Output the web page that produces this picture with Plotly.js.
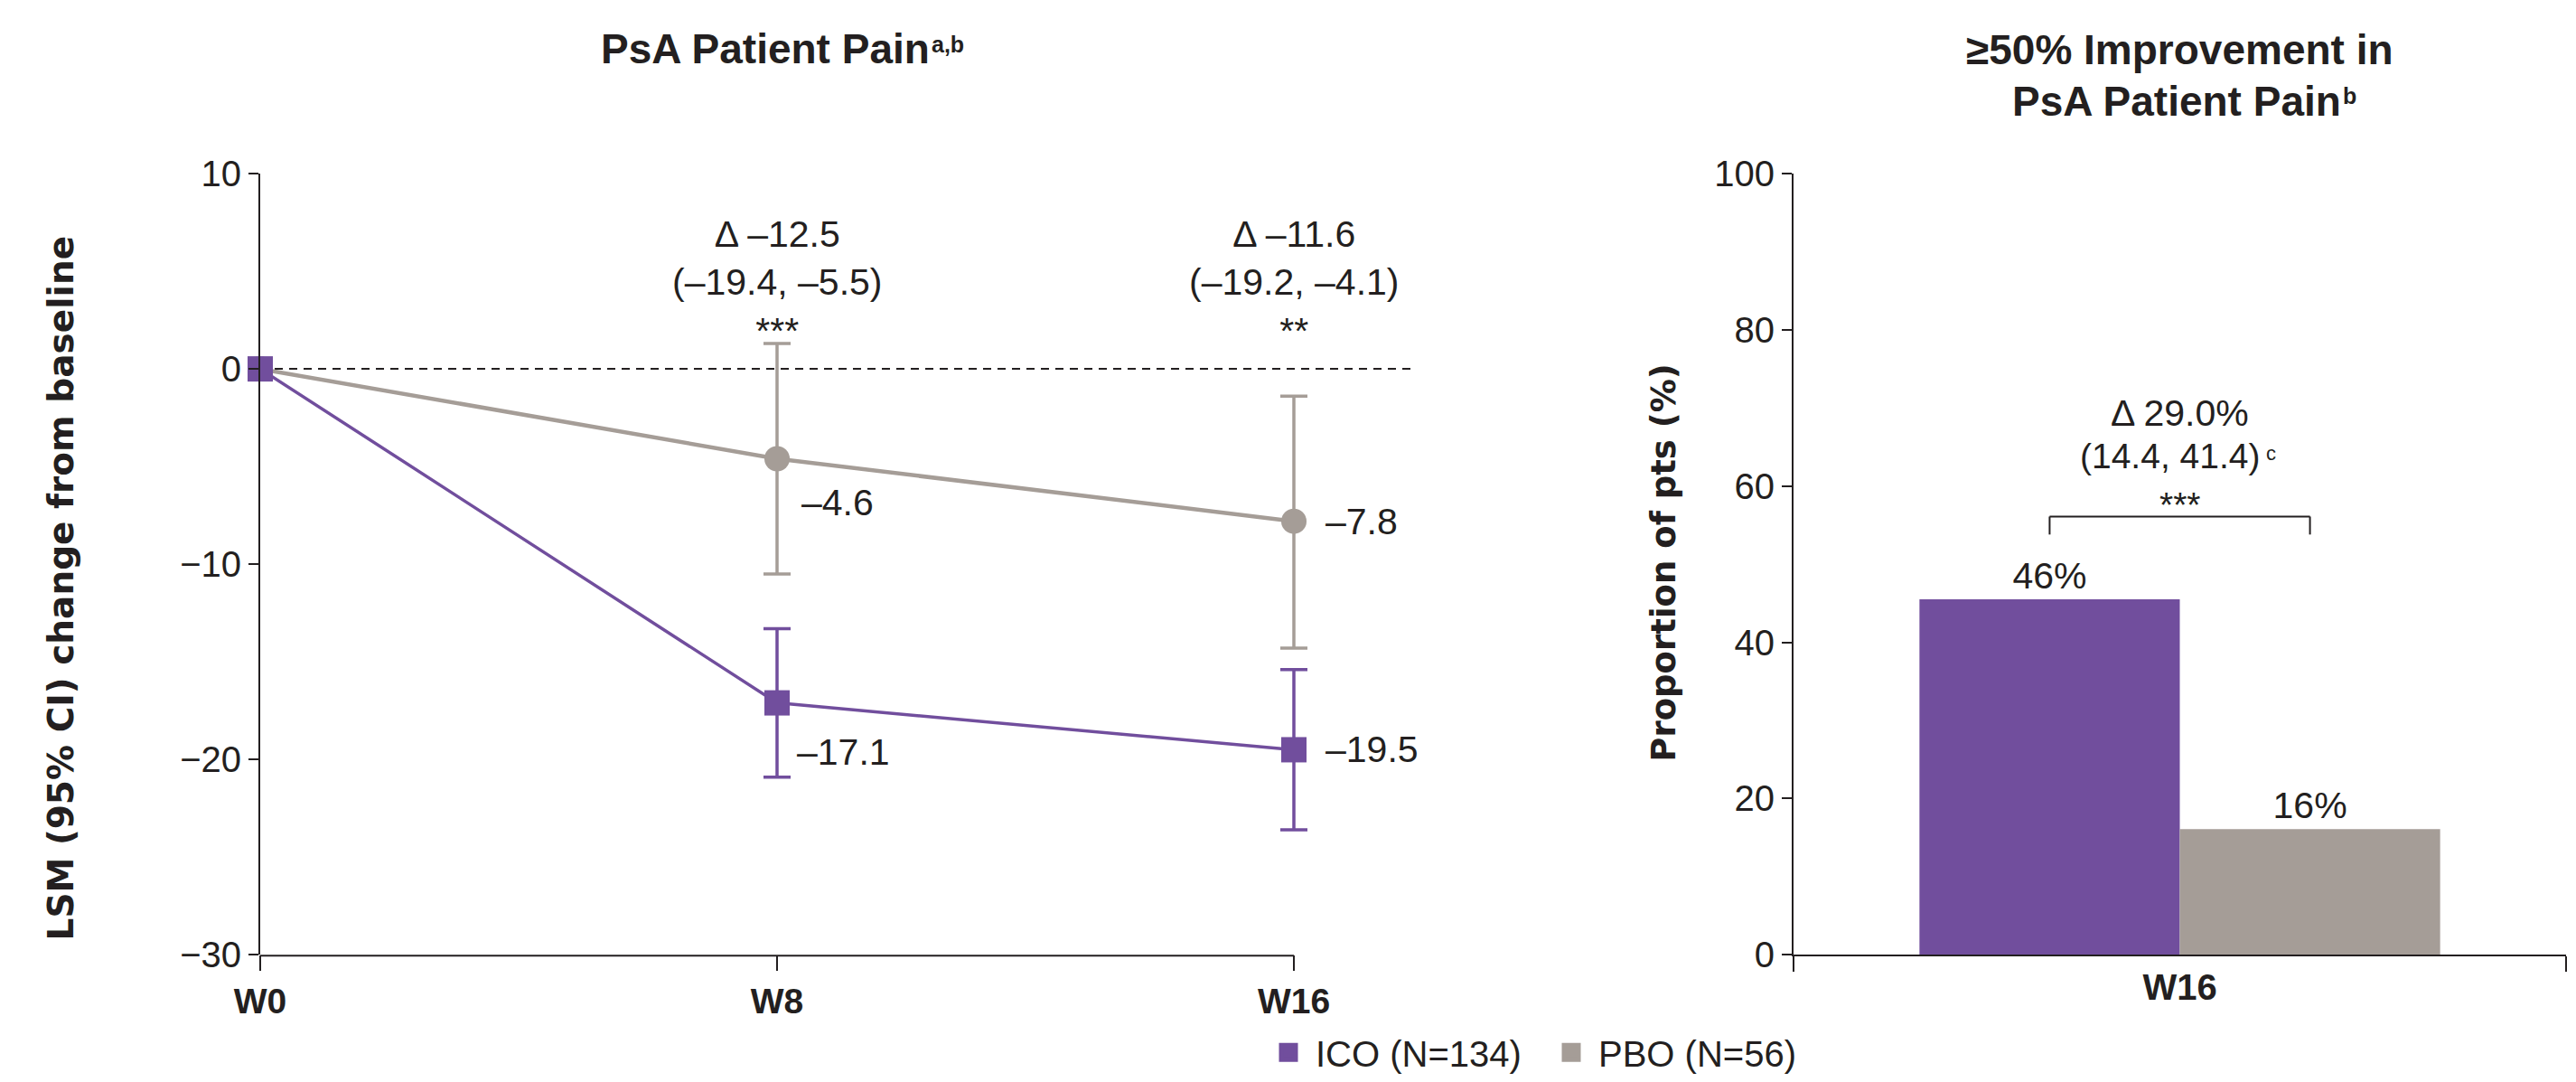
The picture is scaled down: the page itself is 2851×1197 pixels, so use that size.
<!DOCTYPE html>
<html>
<head>
<meta charset="utf-8">
<script src="https://cdn.plot.ly/plotly-3.0.1.min.js"></script>
<style>
  html, body { margin: 0; padding: 0; background: #ffffff; }
  #chart { width: 2851px; height: 1197px; }
</style>
</head>
<body>
<div id="chart"></div>
<script>
// ---------- data ----------
const weeks = [0, 8, 16];
const weekLabels = ['W0', 'W8', 'W16'];

const icoMean  = [0, -17.1, -19.5];
const icoLower = [null, -20.9, -23.6];
const icoUpper = [null, -13.3, -15.4];

const pboMean  = [0, -4.6, -7.8];
const pboLower = [null, -10.5, -14.3];
const pboUpper = [null, 1.3, -1.4];

const deltaLabels = ['', 'Δ –12.5<br>(–19.4, –5.5)<br>***', 'Δ –11.6<br>(–19.2, –4.1)<br>**'];

const barCategory = ['W16'];
const icoResponse = [45.5];
const pboResponse = [16.1];
const icoResponseLabel = ['46%'];
const pboResponseLabel = ['16%'];
const barDelta = 'Δ 29.0%';
const barDeltaCI = '(14.4, 41.4)';
const barDeltaNote = 'c';
const barDeltaSig = '***';

const seriesNames = ['ICO (N=134)', 'PBO (N=56)'];

// ---------- style ----------
const PURPLE = '#714e9d';
const GRAY = '#a59d97';
const INK = '#231f20';
const FONT = 'Liberation Sans, Arial, Helvetica, sans-serif';
const WIDE = 'DejaVu Sans, Verdana, sans-serif';
const W = 2851, H = 1197;
const px = v => v / W;
const py = v => 1 - v / H;

const errPlus = (m, u) => m.map((v, i) => u[i] == null ? NaN : u[i] - v);
const errMinus = (m, l) => m.map((v, i) => l[i] == null ? NaN : v - l[i]);
const fmt = v => v.toFixed(1).replace('-', '–');

// left panel geometry: W0 at 288px, W16 at 1432px, dashed reference line runs on to 1567px
const X0PX = 288, X16PX = 1432, XENDPX = 1567;
const xMax = weeks[weeks.length - 1];
const xRangeEnd = xMax * (XENDPX - X0PX) / (X16PX - X0PX);

const traces = [
  {
    type: 'scatter', mode: 'lines+markers', x: weeks, y: pboMean,
    xaxis: 'x', yaxis: 'y', name: seriesNames[1], showlegend: false, cliponaxis: false,
    line: { color: GRAY, width: 4.5 },
    marker: { symbol: 'circle', size: 28, color: GRAY },
    error_y: { type: 'data', symmetric: false, array: errPlus(pboMean, pboUpper),
               arrayminus: errMinus(pboMean, pboLower), color: GRAY, thickness: 3.5, width: 15 },
    hoverinfo: 'skip'
  },
  {
    type: 'scatter', mode: 'lines+markers', x: weeks, y: icoMean,
    xaxis: 'x', yaxis: 'y', name: seriesNames[0], showlegend: false, cliponaxis: false,
    line: { color: PURPLE, width: 3.5 },
    marker: { symbol: 'square', size: 28, color: PURPLE },
    error_y: { type: 'data', symmetric: false, array: errPlus(icoMean, icoUpper),
               arrayminus: errMinus(icoMean, icoLower), color: PURPLE, thickness: 3.5, width: 15 },
    hoverinfo: 'skip'
  },
  {
    type: 'bar', x: barCategory, y: icoResponse, xaxis: 'x2', yaxis: 'y2',
    name: seriesNames[0], showlegend: false, marker: { color: PURPLE },
    text: icoResponseLabel, textposition: 'outside', cliponaxis: false,
    textfont: { family: FONT, size: 41, color: INK }, hoverinfo: 'skip'
  },
  {
    type: 'bar', x: barCategory, y: pboResponse, xaxis: 'x2', yaxis: 'y2',
    name: seriesNames[1], showlegend: false, marker: { color: GRAY },
    text: pboResponseLabel, textposition: 'outside', cliponaxis: false,
    textfont: { family: FONT, size: 41, color: INK }, hoverinfo: 'skip'
  },
  // legend entries
  {
    type: 'scatter', mode: 'markers', x: [null], y: [null], xaxis: 'x2', yaxis: 'y2',
    name: seriesNames[0], marker: { symbol: 'square', size: 16, color: PURPLE, line: { color: PURPLE, width: 5 } },
    hoverinfo: 'skip'
  },
  {
    type: 'scatter', mode: 'markers', x: [null], y: [null], xaxis: 'x2', yaxis: 'y2',
    name: seriesNames[1], marker: { symbol: 'square', size: 16, color: GRAY, line: { color: GRAY, width: 5 } },
    hoverinfo: 'skip'
  }
];

const bargap = 0.326;
const barOffset = (1 - bargap) / 4;
const bracketTop = 56.1, bracketLeg = 53.8;

const titleFont = { family: FONT, size: 46, color: INK, weight: 'bold' };
const supFont = { family: FONT, size: 25, color: INK, weight: 'bold' };
const valFont = { family: FONT, size: 41, color: INK };

const annotations = [
  // panel titles
  { xref: 'paper', yref: 'paper', x: px(1030), y: py(55), xanchor: 'right', yanchor: 'middle', borderpad: 0,
    text: 'PsA Patient Pain', showarrow: false, font: titleFont },
  { xref: 'paper', yref: 'paper', x: px(1030), y: py(34), xanchor: 'left', yanchor: 'top', borderpad: 0,
    text: 'a,b', showarrow: false, font: supFont },
  { xref: 'paper', yref: 'paper', x: px(2412), y: py(56), xanchor: 'center', yanchor: 'middle',
    text: '≥50% Improvement in', showarrow: false, font: titleFont },
  { xref: 'paper', yref: 'paper', x: px(2592), y: py(113), xanchor: 'right', yanchor: 'middle', borderpad: 0,
    text: 'PsA Patient Pain', showarrow: false, font: titleFont },
  { xref: 'paper', yref: 'paper', x: px(2592), y: py(92), xanchor: 'left', yanchor: 'top', borderpad: 0,
    text: 'b', showarrow: false, font: supFont },
  // y-axis titles
  { xref: 'paper', yref: 'paper', x: px(67), y: py(657), xanchor: 'center', yanchor: 'middle', textangle: -90,
    text: 'LSM (95% CI) change from baseline', showarrow: false,
    font: { family: WIDE, size: 39, color: INK, weight: 'bold' } },
  { xref: 'paper', yref: 'paper', x: px(1842), y: py(629), xanchor: 'center', yanchor: 'middle', textangle: -90,
    text: 'Proportion of pts (%)', showarrow: false,
    font: { family: WIDE, size: 37, color: INK, weight: 'bold' } },
  // bar-panel difference
  { xref: 'x2', yref: 'y2', x: 0, y: 69.4, xanchor: 'center', yanchor: 'middle',
    text: barDelta, showarrow: false, font: valFont },
  { xref: 'x2', yref: 'y2', x: 0, xshift: -11, y: 63.9, xanchor: 'center', yanchor: 'middle',
    text: barDeltaCI, showarrow: false, font: { family: FONT, size: 39, color: INK } },
  { xref: 'x2', yref: 'y2', x: 0, xshift: 93, y: 65.9, xanchor: 'left', yanchor: 'top',
    text: barDeltaNote, showarrow: false, font: { family: FONT, size: 22, color: INK } },
  { xref: 'x2', yref: 'y2', x: 0, y: 57.6, xanchor: 'center', yanchor: 'middle',
    text: barDeltaSig, showarrow: false, font: { family: FONT, size: 39, color: INK } }
];

weeks.forEach((wk, i) => {
  if (deltaLabels[i]) {
    annotations.push({ xref: 'x', yref: 'y', x: wk, y: 4.41, xanchor: 'center', yanchor: 'middle',
      text: deltaLabels[i], showarrow: false, font: valFont });
  }
  if (i > 0) {
    annotations.push({ xref: 'x', yref: 'y', x: wk, y: pboMean[i] + (i === 1 ? -2.26 : 0), xanchor: 'left',
      yanchor: 'middle', xshift: i === 1 ? 25 : 33, text: fmt(pboMean[i]), showarrow: false, font: valFont });
    annotations.push({ xref: 'x', yref: 'y', x: wk, y: icoMean[i] + (i === 1 ? -2.5 : 0), xanchor: 'left',
      yanchor: 'middle', xshift: i === 1 ? 20 : 33, text: fmt(icoMean[i]), showarrow: false, font: valFont });
  }
});

const shapes = [
  // zero reference line
  { type: 'line', xref: 'x', yref: 'y', x0: 0, x1: xRangeEnd, y0: 0, y1: 0,
    line: { color: INK, width: 2, dash: '9px,7px' }, layer: 'below' },
  // x-axis line of the left panel (W0 to W16 only)
  { type: 'line', xref: 'x', yref: 'paper', x0: 0, x1: xMax, y0: py(1068), y1: py(1068),
    line: { color: INK, width: 2 } },
  // significance bracket
  { type: 'line', xref: 'x2', yref: 'y2', x0: -barOffset, x1: barOffset, y0: bracketTop, y1: bracketTop,
    line: { color: INK, width: 2 } },
  { type: 'line', xref: 'x2', yref: 'y2', x0: -barOffset, x1: -barOffset, y0: bracketLeg, y1: bracketTop,
    line: { color: INK, width: 2 } },
  { type: 'line', xref: 'x2', yref: 'y2', x0: barOffset, x1: barOffset, y0: bracketLeg, y1: bracketTop,
    line: { color: INK, width: 2 } }
];

const yDomain = [py(1067), py(194)];

const layout = {
  width: W, height: H,
  margin: { l: 0, r: 0, t: 0, b: 0, pad: 0 },
  paper_bgcolor: '#ffffff', plot_bgcolor: 'rgba(0,0,0,0)',
  font: { family: FONT, size: 40, color: INK },
  showlegend: true,
  barmode: 'group', bargap: bargap, bargroupgap: 0,
  xaxis: {
    domain: [px(X0PX), px(XENDPX)], range: [0, xRangeEnd], anchor: 'y',
    tickmode: 'array', tickvals: weeks, ticktext: weekLabels,
    ticks: 'outside', ticklen: 17, tickwidth: 2, tickcolor: INK,
    showline: false, showgrid: false, zeroline: false,
    tickfont: { family: FONT, size: 39, color: INK, weight: 'bold' }, fixedrange: true
  },
  yaxis: {
    domain: yDomain, range: [-30, 10], anchor: 'x',
    tickmode: 'array', tickvals: [-30, -20, -10, 0, 10],
    ticks: 'outside', ticklen: 11, tickwidth: 2, tickcolor: INK,
    showline: true, linecolor: INK, linewidth: 2, showgrid: false, zeroline: false,
    tickfont: { family: FONT, size: 40, color: INK }, fixedrange: true
  },
  xaxis2: {
    domain: [px(1985), px(2840)], type: 'category', range: [-0.5, 0.5], anchor: 'y2',
    tickson: 'boundaries', ticks: 'outside', ticklen: 17, tickwidth: 2, tickcolor: INK,
    showline: true, linecolor: INK, linewidth: 2, showgrid: false, zeroline: false,
    tickfont: { family: FONT, size: 40, color: INK, weight: 'bold' }, fixedrange: true
  },
  yaxis2: {
    domain: yDomain, range: [0, 100], anchor: 'x2',
    tickmode: 'array', tickvals: [0, 20, 40, 60, 80, 100],
    ticks: 'outside', ticklen: 11, tickwidth: 2, tickcolor: INK,
    showline: true, linecolor: INK, linewidth: 2, showgrid: false, zeroline: false,
    tickfont: { family: FONT, size: 40, color: INK }, fixedrange: true
  },
  legend: {
    orientation: 'h', x: px(1396), xanchor: 'left', y: py(1176), yanchor: 'middle',
    itemwidth: 50, entrywidth: 248, entrywidthmode: 'pixels',
    font: { family: FONT, size: 40, color: INK },
    bgcolor: 'rgba(0,0,0,0)', borderwidth: 0, itemclick: false, itemdoubleclick: false
  },
  annotations: annotations,
  shapes: shapes
};

Plotly.newPlot('chart', traces, layout, { displayModeBar: false, staticPlot: true });
</script>
</body>
</html>
